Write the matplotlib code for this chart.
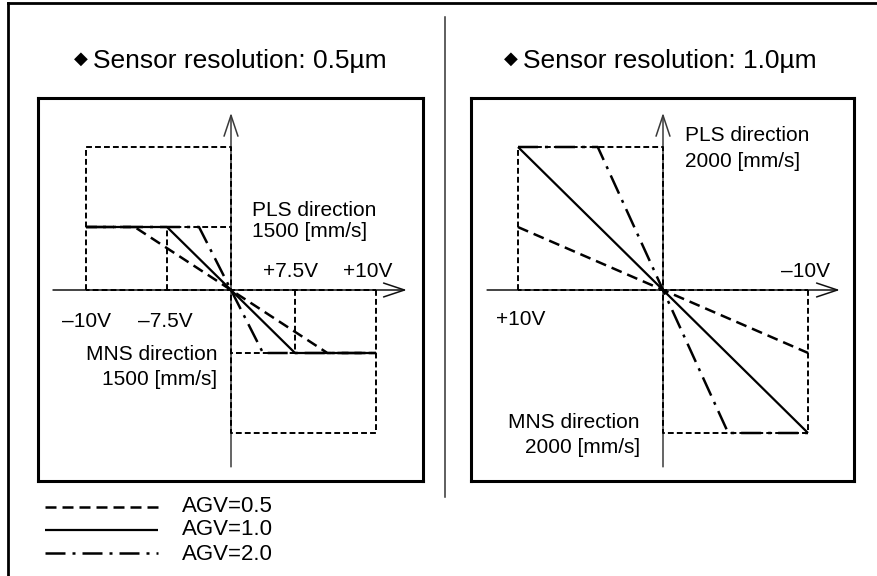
import numpy as np
import matplotlib
matplotlib.use('Agg')
import matplotlib.pyplot as plt
from matplotlib.lines import Line2D

plt.rcParams['font.family'] = ['Liberation Sans', 'DejaVu Sans']

W, H = 877, 576

# 0.5um sensor: command voltage [V] -> speed [mm/s], clamped at 1500 mm/s
l_volt_agv05 = [-10, -8.5, 0, 8.5, 10]
l_volt_agv10 = [-10, -7.5, 0, 7.5, 10]
l_volt_agv20 = [-10, -3.75, 0, 3.75, 10]
l_speed = [1500, 1500, 0, -1500, -1500]
l_limit = 1500
l_knee = 7.5

# 1.0um sensor: limit 2000 mm/s
r_volt_agv05 = [10, 0, -10]
r_speed_agv05 = [880, 0, -880]
r_volt_agv10 = [10, 0, -10]
r_speed_agv10 = [2000, 0, -2000]
r_volt_agv20 = [10, 4.5, 0, -4.5, -10]
r_speed_agv20 = [2000, 2000, 0, -2000, -2000]

full_volt = 10
full_speed = 2000

agv_labels = ['AGV=0.5', 'AGV=1.0', 'AGV=2.0']
styles = [
    dict(color='black', lw=1.8, dashes=(4.4, 2.4)),
    dict(color='black', lw=1.6, linestyle='-'),
    dict(color='black', lw=1.8, dashes=(8, 2.8, 1.2, 2.8)),
]
guide = dict(color='black', lw=1.4, dashes=(3, 1.6))


def piecewise(vals, pix):
    # odd piecewise-linear mapping, the diagram is not drawn to scale
    vals = np.asarray(vals, float)
    pix = np.asarray(pix, float)

    def fwd(v):
        v = np.asarray(v, float)
        return np.sign(v) * np.interp(np.abs(v), vals, pix)

    def inv(p):
        p = np.asarray(p, float)
        return np.sign(p) * np.interp(np.abs(p), pix, vals)
    return fwd, inv


def fig_xy(x, y):
    return x / W, 1 - y / H


fig = plt.figure(figsize=(W / 100, H / 100), dpi=100)


def label(x, y, s, size=15, va='baseline', **kw):
    fx, fy = fig_xy(x, y)
    fig.text(fx, fy, s, fontsize=size, va=va, **kw)


def panel(left, xscale, yscale, xlim_px, flip=False):
    x0, y0 = fig_xy(left, 481)
    ax = fig.add_axes([x0, y0, (xlim_px[1] - xlim_px[0]) / W, 383 / H])
    ax.set_xscale('function', functions=xscale)
    ax.set_yscale('function', functions=yscale)
    xi, yi = xscale[1], yscale[1]
    if flip:
        ax.set_xlim(xi(-xlim_px[0]), xi(-xlim_px[1]))
    else:
        ax.set_xlim(xi(xlim_px[0]), xi(xlim_px[1]))
    ax.set_ylim(yi(-191), yi(192))
    ax.set_xticks([])
    ax.set_yticks([])
    ax.xaxis.set_minor_locator(matplotlib.ticker.NullLocator())
    ax.yaxis.set_minor_locator(matplotlib.ticker.NullLocator())
    for sp in ax.spines.values():
        sp.set_linewidth(2.2)
    return ax


def axis_arrows(ax, hx0, hx1):
    arrow = dict(arrowstyle='->,head_length=1.5,head_width=0.5', lw=1.1,
                 shrinkA=0, shrinkB=0)
    ax.annotate('', xy=(hx1, 0), xytext=(hx0, 0),
                xycoords=ax.get_yaxis_transform(),
                arrowprops=dict(color='#111111', **arrow), zorder=2)
    ax.annotate('', xy=(0, 0.961), xytext=(0, 0.037),
                xycoords=ax.get_xaxis_transform(),
                arrowprops=dict(color='#3a3a3a', **arrow), zorder=2)


# left panel (0.5um)
axl = panel(38, piecewise([0, 7.5, 10, 20], [0, 64, 145, 469]),
            piecewise([0, 1500, 2000, 4000], [0, 63, 143, 463]), (-193, 192))
axis_arrows(axl, 0.039, 0.958)
for s in (-1, 1):
    axl.plot([s * full_volt, s * full_volt, 0, 0, s * full_volt],
             [0, -s * full_speed, -s * full_speed, 0, 0], zorder=3, **guide)
    axl.plot([s * l_knee, s * l_knee], [0, -s * l_limit], zorder=3, **guide)
    axl.plot([s * full_volt, 0], [-s * l_limit, -s * l_limit], zorder=3, **guide)
for xs, st in zip([l_volt_agv05, l_volt_agv10, l_volt_agv20], styles):
    axl.plot(xs, l_speed, zorder=4, solid_capstyle='butt', **st)

# right panel (1.0um), +V drawn to the left
axr = panel(471, piecewise([0, 10, 20], [0, 145, 290]),
            piecewise([0, 2000, 4000], [0, 143, 286]), (-192, 191), flip=True)
axis_arrows(axr, 0.042, 0.963)
for s in (-1, 1):
    axr.plot([s * full_volt, s * full_volt, 0, 0, s * full_volt],
             [0, s * full_speed, s * full_speed, 0, 0], zorder=3, **guide)
for xs, ys, st in zip([r_volt_agv05, r_volt_agv10, r_volt_agv20],
                      [r_speed_agv05, r_speed_agv10, r_speed_agv20], styles):
    axr.plot(xs, ys, zorder=4, solid_capstyle='butt', **st)

# titles
for x0, res in [(75, '0.5'), (505, '1.0')]:
    label(x0 + 6, 59, '\u25c6', size=13, ha='center', va='center',
          family='DejaVu Sans')
    label(x0 + 18, 68, f'Sensor resolution: {res}\u00b5m', size=19)

# left panel annotations
label(252, 216, 'PLS direction')
label(252, 237, f'{l_limit} [mm/s]')
label(263, 277, f'+{l_knee}V')
label(343, 277, f'+{full_volt}V')
label(62, 327, f'\u2013{full_volt}V')
label(138, 327, f'\u2013{l_knee}V')
label(217, 360, 'MNS direction', ha='right')
label(217, 385, f'{l_limit} [mm/s]', ha='right')

# right panel annotations
label(685, 141, 'PLS direction')
label(685, 167, f'{full_speed} [mm/s]')
label(830, 277, f'\u2013{full_volt}V', ha='right')
label(496, 325, f'+{full_volt}V')
label(640, 428, 'MNS direction', ha='right')
label(640, 453, f'{full_speed} [mm/s]', ha='right')

# legend
for (ly, by), name, st in zip([(507, 512), (530, 535), (553, 560)], agv_labels, styles):
    xa, ya = fig_xy(45, ly)
    xb, _ = fig_xy(158, ly)
    fig.add_artist(Line2D([xa, xb], [ya, ya], transform=fig.transFigure,
                          solid_capstyle='butt', **st))
    label(182, by, name, size=16)

# outer frame and divider
fx, fy = fig_xy(8, 3)
fig.add_artist(Line2D([fx, 1.02], [fy, fy], transform=fig.transFigure,
                      color='black', lw=2, solid_capstyle='projecting'))
fig.add_artist(Line2D([fx, fx], [fy, -0.02], transform=fig.transFigure,
                      color='black', lw=2, solid_capstyle='projecting'))
dx, dy0 = fig_xy(445, 17)
_, dy1 = fig_xy(445, 497)
fig.add_artist(Line2D([dx, dx], [dy0, dy1], transform=fig.transFigure,
                      color='#333333', lw=1.1))

fig.savefig('out.png', dpi=100)
